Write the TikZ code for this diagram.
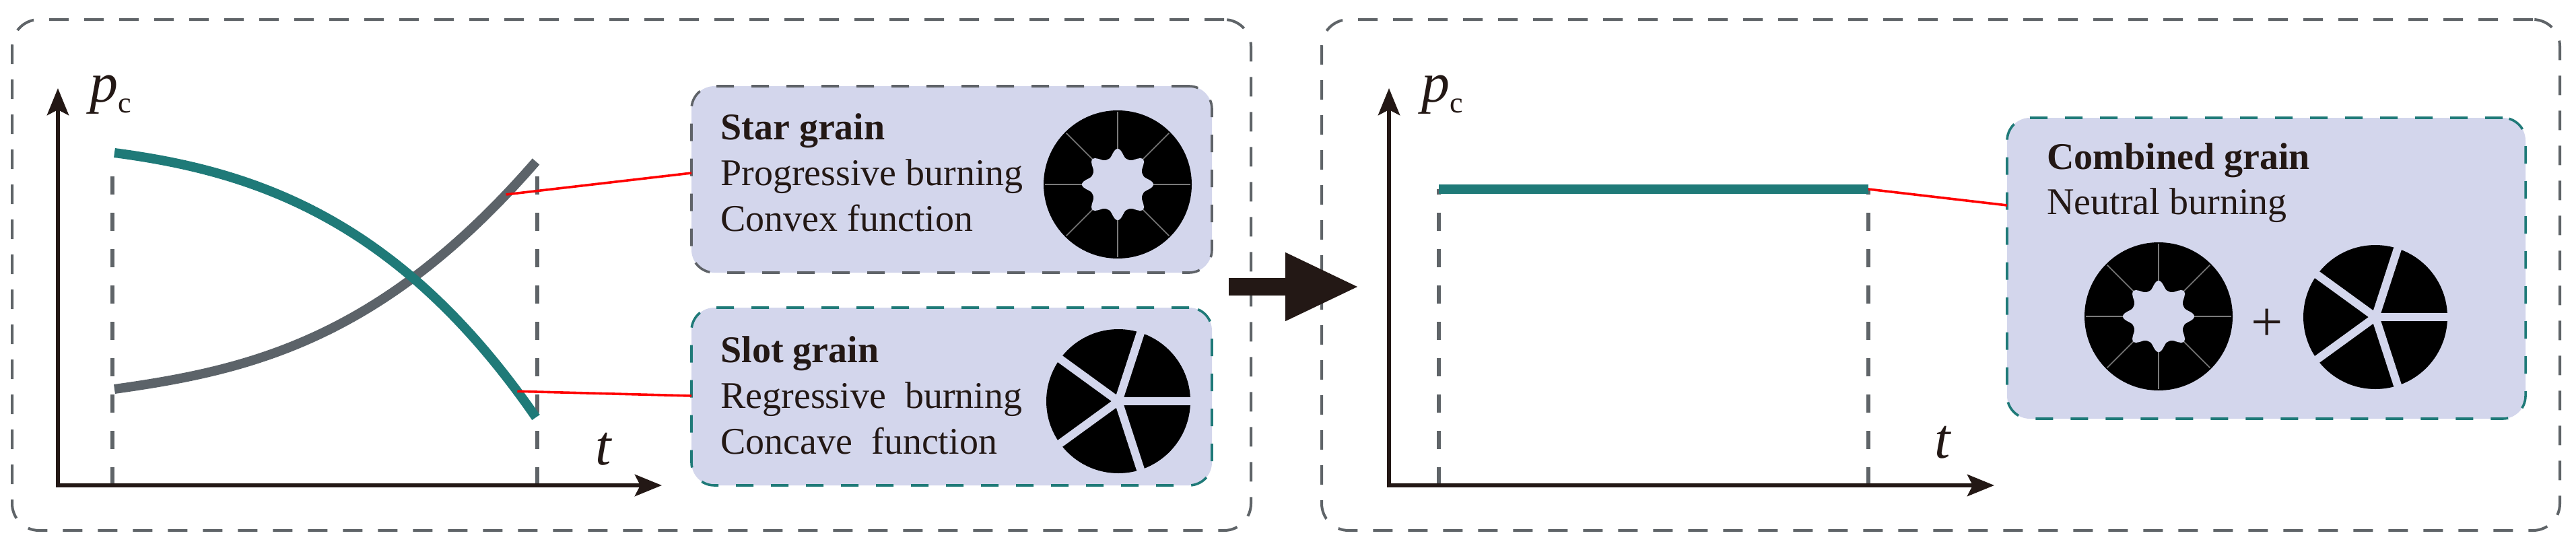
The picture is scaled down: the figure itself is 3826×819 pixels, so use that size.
\documentclass[tikz,border=0pt]{standalone}
\usepackage{fontspec}
\setmainfont{Liberation Serif}
\usetikzlibrary{arrows.meta}
\definecolor{panelgray}{HTML}{5F6468}
\definecolor{tealc}{HTML}{1F7A78}
\definecolor{curvegray}{HTML}{5C6369}
\definecolor{axisc}{HTML}{231815}
\definecolor{lav}{HTML}{D3D6EC}
\definecolor{boxgray}{HTML}{5F6368}
\definecolor{raycol}{HTML}{7A7A7A}
\definecolor{redc}{HTML}{FF0000}
\tikzset{
  panel/.style={draw=panelgray, line width=2pt, dash pattern=on 14.5pt off 11.5pt, rounded corners=20pt, inner sep=0pt},
  gbox/.style={fill=lav, line width=1.8pt, dash pattern=on 13pt off 13pt, rounded corners=17pt, inner sep=0pt},
  axisl/.style={draw=axisc, line width=3.2pt, {Stealth[length=20pt,width=16pt,inset=4pt]}-{Stealth[length=20pt,width=16pt,inset=4pt]}},
  guide/.style={draw=panelgray, line width=3pt, dash pattern=on 13.5pt off 13.5pt},
  tealcurve/.style={draw=tealc, line width=7pt},
  graycurve/.style={draw=curvegray, line width=7pt},
  redline/.style={draw=redc, line width=1.8pt},
  txt/.style={anchor=base west, inner sep=0pt, text=axisc, font=\fontsize{28}{34}\selectfont},
  txtb/.style={anchor=base west, inner sep=0pt, text=axisc, font=\fontsize{28}{34}\selectfont\bfseries},
  axlab/.style={anchor=base west, inner sep=0pt, text=axisc, font=\fontsize{42}{42}\selectfont\itshape},
  bigarrow/.style={draw=axisc, line width=13pt, -{Triangle[length=55pt,width=47pt]}},
  stargrain/.pic={
    \fill[black] (0,0) circle[radius=55pt];
    \foreach \a in {0,45,...,315} \draw[raycol, line width=0.8pt] (\a:45) -- (\a:108);
    \fill[lav] plot[domain=0:360, samples=361, variable=\t]
      ({(40+13*((1+cos(8*\t))/2)^1.6)*cos(\t)}, {(40+13*((1+cos(8*\t))/2)^1.6)*sin(\t)}) -- cycle;
  },
  slotgrain/.pic={
    \fill[black] (0,0) circle[radius=53.5pt];
    \foreach \a in {0,72,144,216,288} \draw[lav, line width=6pt] (0,0) -- (\a:112);
  }
}
\begin{document}
\begin{tikzpicture}[x=0.5pt,y=-0.5pt]
\useasboundingbox (0,0) rectangle (3826,819);
\fill[white] (0,0) rectangle (3826,819);

% panels
\node[panel, minimum width=920pt, minimum height=379.5pt] (lp) at (938,408.5) {};
\node[panel, minimum width=919.5pt, minimum height=379.5pt] (rp) at (2882.5,408.5) {};

% grain boxes
\node[gbox, draw=boxgray, minimum width=386.5pt, minimum height=138.5pt] (star) at (1413.5,266.5) {};
\node[gbox, draw=tealc, minimum width=386.5pt, minimum height=132pt] (slot) at (1413.5,589) {};
\node[gbox, draw=tealc, minimum width=385pt, minimum height=223.5pt] (comb) at (3366,398.5) {};

% ---------- left graph ----------
\coordinate (g1b) at (167,721); \coordinate (g1t) at (167,245);
\coordinate (g2b) at (798,721); \coordinate (g2t) at (798,245);
\draw[guide] (g1b) -- (g1t);
\draw[guide] (g2b) -- (g2t);

\coordinate (gs) at (170,578); \coordinate (ge) at (796,240);
\draw[graycurve] (gs) .. controls (370,550) and (566,505) .. (ge) coordinate[pos=0.935] (gr);
\coordinate (ts) at (170,227); \coordinate (te) at (796,620);
\draw[tealcurve] (ts) .. controls (375,254) and (591,323) .. (te) coordinate[pos=0.955] (tr);

\coordinate (sL) at (1027,257);
\coordinate (lL) at (1027,588);
\draw[redline] (gr) -- (sL);
\draw[redline] (tr) -- (lL);

\coordinate (y1) at (86,131); \coordinate (o1) at (86,721); \coordinate (x1) at (983,721);
\draw[axisl] (y1) -- (o1) -- (x1);
\node[axlab] (pc1) at (133,151) {p\raisebox{-8pt}{\fontsize{22}{22}\selectfont\upshape c}};
\node[axlab] (t1) at (884,690) {t};

% box texts
\node[txtb] (s1) at (1070,207) {Star grain};
\node[txt] (s2) at (1070,275) {Progressive burning};
\node[txt] (s3) at (1070,343) {Convex function};
\pic at (1660,274) {stargrain};

\node[txtb] (l1) at (1070,538) {Slot grain};
\node[txt] (l2) at (1070,606) {Regressive\ \ burning};
\node[txt] (l3) at (1070,674) {Concave\ \ function};
\pic at (1661,596) {slotgrain};

% big arrow
\coordinate (ba1) at (1825,426); \coordinate (ba2) at (2019,426);
\draw[bigarrow] (ba1) -- (ba2);

% ---------- right graph ----------
\coordinate (h1b) at (2137,721); \coordinate (h1t) at (2137,281);
\coordinate (h2b) at (2775,721); \coordinate (h2t) at (2775,281);
\draw[guide] (h1b) -- (h1t);
\draw[guide] (h2b) -- (h2t);
\draw[draw=tealc, line width=7pt] (h1t) -- (h2t);
\coordinate (cL) at (2981,305);
\draw[redline] (h2t) -- (cL);

\coordinate (y2) at (2063,131); \coordinate (o2) at (2063,721); \coordinate (x2) at (2962,721);
\draw[axisl] (y2) -- (o2) -- (x2);
\node[axlab] (pc2) at (2111,151) {p\raisebox{-8pt}{\fontsize{22}{22}\selectfont\upshape c}};
\node[axlab] (t2) at (2873,680) {t};

\node[txtb] (c1) at (3040,251) {Combined grain};
\node[txt] (c2) at (3040,318) {Neutral burning};
\pic at (3206,470) {stargrain};
\node[inner sep=0pt, text=axisc, font=\fontsize{42}{42}\selectfont] (plus) at (3367,483) {+};
\pic at (3528,471) {slotgrain};
\end{tikzpicture}
\end{document}
